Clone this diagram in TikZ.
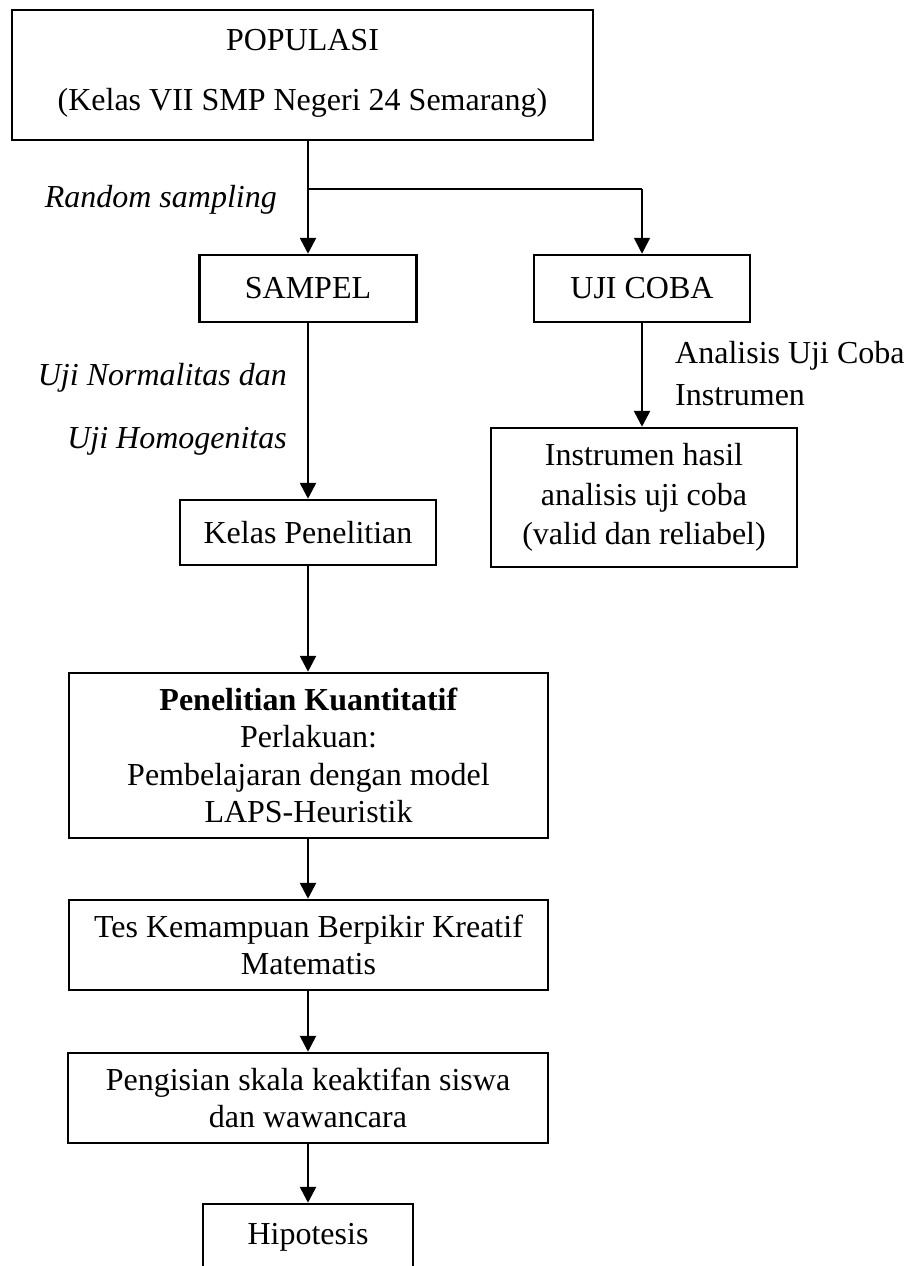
\documentclass[tikz,border=0pt]{standalone}
\usepackage{fontspec}
\setmainfont{Liberation Serif}
\usetikzlibrary{arrows.meta}
\begin{document}
\begin{tikzpicture}[x=1pt,y=-1pt,
  box/.style={draw, line width=2.5pt, rectangle, inner sep=0pt, align=center,
    font=\fontsize{32}{37.5}\selectfont},
  txt/.style={inner sep=0pt, text height=21pt, text depth=0pt,
    font=\fontsize{32}{37.5}\selectfont},
  lbl/.style={txt, font=\fontsize{32}{37.5}\selectfont\itshape},
  arr/.style={line width=2.7pt, -{Triangle[length=16pt,width=16pt]}},
  arrthin/.style={line width=1.8pt, -{Triangle[length=16pt,width=16pt]}},
  thinline/.style={line width=1.3pt}
]
\useasboundingbox (0,0) rectangle (910,1266);
\clip (0,0) rectangle (910,1266);

% boxes
\node[box, minimum width=581pt, minimum height=130pt] (pop) at (302.5,75) {};
\node[txt] (popA) at (302.5,40) {POPULASI};
\node[txt] (popB) at (302.5,100) {(Kelas VII SMP Negeri 24 Semarang)};

\node[box, minimum width=217pt, minimum height=67pt] (samp) at (308,288.5) {SAMPEL};
\node[box, minimum width=216pt, minimum height=67pt] (uji) at (642,288.5) {UJI COBA};
\node[box, minimum width=306pt, minimum height=139pt, font=\fontsize{32}{39.5}\selectfont] (instr) at (644,497.5)
  {Instrumen hasil\\analisis uji coba\\(valid dan reliabel)};
\node[box, minimum width=256pt, minimum height=65pt] (kelas) at (308,532.5) {Kelas Penelitian};
\node[box, minimum width=479pt, minimum height=165pt] (pen) at (308.5,755.5)
  {\textbf{Penelitian Kuantitatif}\\Perlakuan:\\Pembelajaran dengan model\\LAPS-Heuristik};
\node[box, minimum width=479pt, minimum height=90pt] (tes) at (308.5,945)
  {Tes Kemampuan Berpikir Kreatif\\Matematis};
\node[box, minimum width=480pt, minimum height=90pt] (peng) at (308,1098)
  {Pengisian skala keaktifan siswa\\dan wawancara};
\node[box, minimum width=210pt, minimum height=66pt] (hip) at (308,1237) {Hipotesis};

% labels
\node[lbl, anchor=east] (rs) at (277,197) {Random sampling};
\node[lbl, anchor=east] (un) at (287,375) {Uji Normalitas dan};
\node[lbl, anchor=east] (uh) at (287,438) {Uji Homogenitas};
\node[txt, anchor=west] (an1) at (675,353) {Analisis Uji Coba};
\node[txt, anchor=west] (an2) at (675,395) {Instrumen};

% connectors
\coordinate (br) at (308,189);
\coordinate (brR) at (642,189);
\draw[arr] (samp.north |- pop.south) -- (samp.north);
\draw[thinline] (br) -- (brR);
\draw[arrthin] (brR) -- (uji.north);
\draw[arr] (uji.south) -- (uji.south |- instr.north);
\draw[arr] (samp.south) -- (kelas.north);
\draw[arr] (kelas.south) -- (kelas.south |- pen.north);
\draw[arr] (pen.south -| kelas.south) -- (tes.north -| kelas.south);
\draw[arr] (tes.south -| kelas.south) -- (peng.north -| kelas.south);
\draw[arr] (peng.south -| kelas.south) -- (hip.north);
\end{tikzpicture}
\end{document}
